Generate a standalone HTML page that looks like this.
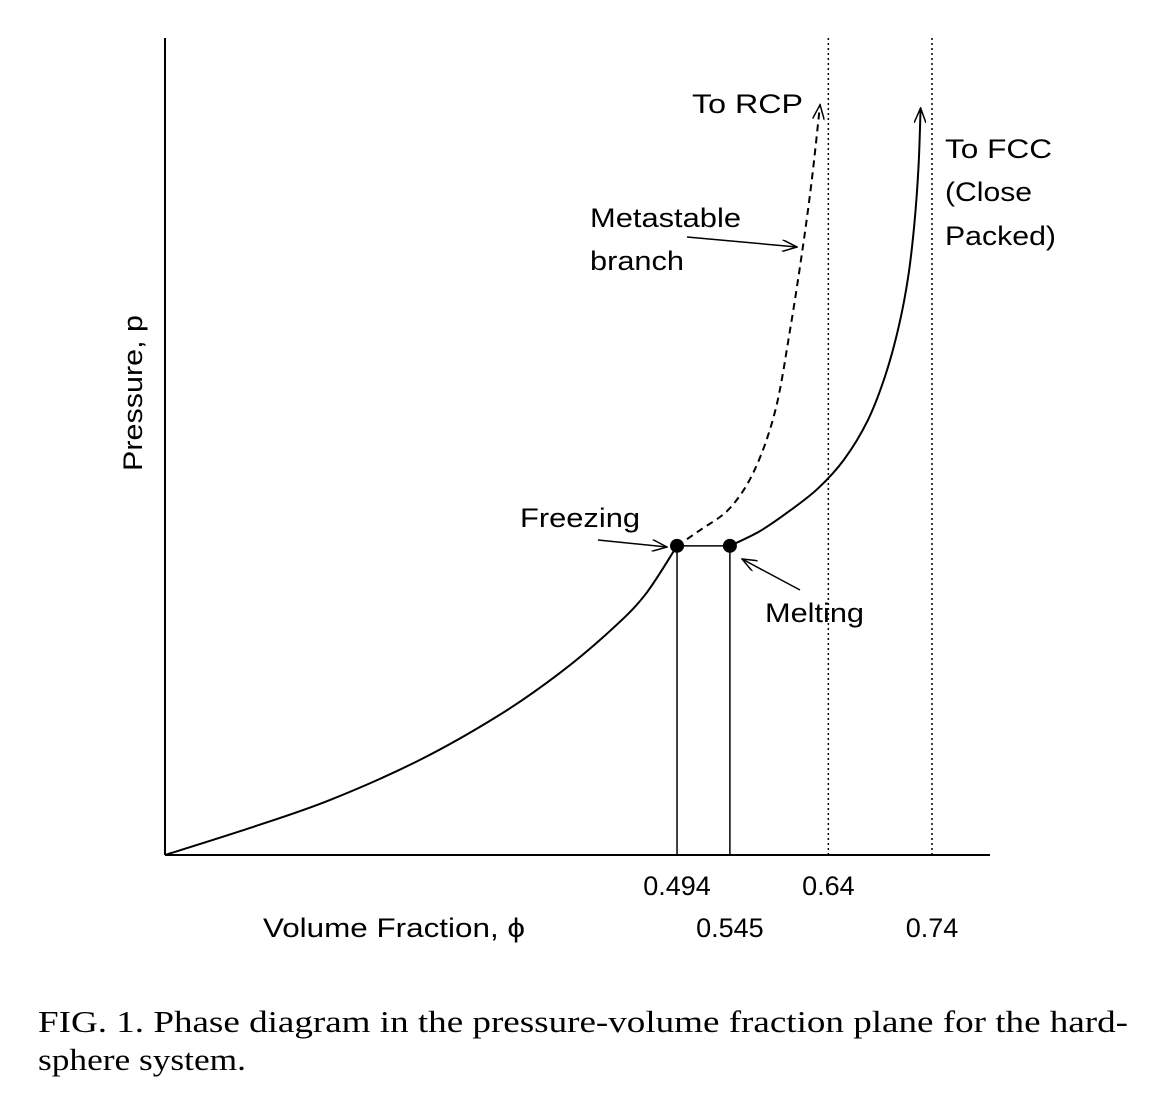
<!DOCTYPE html>
<html><head><meta charset="utf-8"><style>
body{margin:0;background:#fff;}
svg{display:block;}
.s{font-family:"Liberation Sans",sans-serif;font-size:27px;fill:#000;}
.c{font-family:"Liberation Serif",serif;font-size:31px;fill:#000;}
</style></head><body>
<svg id="chart" width="1158" height="1096" viewBox="0 0 1158 1096" xmlns="http://www.w3.org/2000/svg">
<defs><marker id="ah" markerWidth="16" markerHeight="12" refX="15" refY="6" orient="auto" markerUnits="userSpaceOnUse"><path d="M0,0 L15,6 L0,12" fill="none" stroke="#000" stroke-width="1.5"/></marker></defs>
<g id="marks"></g>
<line x1="165" y1="38" x2="165" y2="855" stroke="#000" stroke-width="2"/>
<line x1="165" y1="855" x2="990" y2="855" stroke="#000" stroke-width="2"/>
<text class="s" transform="translate(142,471) rotate(-90)" textLength="156" lengthAdjust="spacingAndGlyphs">Pressure, p</text>
<text class="s" x="263" y="937" textLength="262" lengthAdjust="spacingAndGlyphs">Volume Fraction, ϕ</text>
<text class="s" x="692" y="113" textLength="111" lengthAdjust="spacingAndGlyphs">To RCP</text>
<text class="s" x="945" y="158" textLength="107" lengthAdjust="spacingAndGlyphs">To FCC</text>
<text class="s" x="945" y="201" textLength="87" lengthAdjust="spacingAndGlyphs">(Close</text>
<text class="s" x="945" y="245" textLength="111" lengthAdjust="spacingAndGlyphs">Packed)</text>
<text class="s" x="590" y="227" textLength="151" lengthAdjust="spacingAndGlyphs">Metastable</text>
<text class="s" x="590" y="270" textLength="94" lengthAdjust="spacingAndGlyphs">branch</text>
<text class="s" x="520" y="527" textLength="120" lengthAdjust="spacingAndGlyphs">Freezing</text>
<text class="s" x="765" y="622" textLength="99" lengthAdjust="spacingAndGlyphs">Melting</text>
<line x1="687" y1="237" x2="797" y2="247" stroke="#000" stroke-width="1.5" marker-end="url(#ah)"/>
<line x1="598" y1="540" x2="667" y2="547" stroke="#000" stroke-width="1.5" marker-end="url(#ah)"/>
<line x1="800" y1="590" x2="742" y2="559" stroke="#000" stroke-width="1.5" marker-end="url(#ah)"/>
<text class="c" x="38" y="1032" textLength="1090" lengthAdjust="spacingAndGlyphs">FIG. 1. Phase diagram in the pressure-volume fraction plane for the hard-</text>
<text class="c" x="38" y="1070" textLength="208" lengthAdjust="spacingAndGlyphs">sphere system.</text>
</svg>
<script>
const fluidPhi=[0,0.082,0.159,0.246,0.323,0.381,0.430,0.463,0.494];
const fluidP=[0,0.33,0.67,1.16,1.71,2.22,2.74,3.17,3.77];
const metaPhi=[0.494,0.516,0.545,0.569,0.589,0.603,0.615,0.624,0.632];
const metaP=[3.77,3.96,4.23,4.70,5.43,6.40,7.38,8.23,9.15];
const crystPhi=[0.545,0.574,0.603,0.630,0.655,0.678,0.695,0.708,0.717,0.723,0.727,0.729];
const crystP=[3.77,3.95,4.20,4.47,4.82,5.30,5.85,6.45,7.05,7.70,8.40,9.11];
const freezePhi=0.494, meltPhi=0.545, coexP=3.77;
const dottedPhi=[0.64,0.74];
const tickVals=[0.494,0.545,0.64,0.74];
const tickLabels=["0.494","0.545","0.64","0.74"];
const tickRow=[0,1,0,1];
const X=v=>165+v*1036.5, Y=p=>855-p*82;
const NS="http://www.w3.org/2000/svg", g=document.getElementById('marks');
function mk(t,a){const e=document.createElementNS(NS,t);for(const k in a)e.setAttribute(k,a[k]);g.appendChild(e);return e;}
function pathOf(xs,ys){
  const pts=xs.map((v,i)=>[X(v),Y(ys[i])]);
  let d="M"+pts[0][0]+","+pts[0][1];
  for(let i=0;i<pts.length-1;i++){
    const p0=pts[i-1]||pts[i],p1=pts[i],p2=pts[i+1],p3=pts[i+2]||p2;
    d+=` C${p1[0]+(p2[0]-p0[0])/6},${p1[1]+(p2[1]-p0[1])/6} ${p2[0]-(p3[0]-p1[0])/6},${p2[1]-(p3[1]-p1[1])/6} ${p2[0]},${p2[1]}`;
  }
  return d;
}
dottedPhi.forEach((v,i)=>{
  const e=mk('line',{x1:X(v),y1:38,x2:X(v),y2:855,stroke:'#000','stroke-width':1.5,'stroke-dasharray':'2,3'});
  
  
});
[freezePhi,meltPhi].forEach(v=>{
  const e=mk('line',{x1:X(v),y1:Y(coexP),x2:X(v),y2:855,stroke:'#000','stroke-width':1.5});
  
  
});
let e=mk('line',{x1:X(freezePhi),y1:Y(coexP),x2:X(meltPhi),y2:Y(coexP),stroke:'#000','stroke-width':1.5});


e=mk('path',{d:pathOf(fluidPhi,fluidP),fill:'none',stroke:'#000','stroke-width':2});


e=mk('path',{d:pathOf(metaPhi,metaP),fill:'none',stroke:'#000','stroke-width':2,'stroke-dasharray':'7,5','marker-end':'url(#ah)'});


e=mk('path',{d:pathOf(crystPhi,crystP),fill:'none',stroke:'#000','stroke-width':2,'marker-end':'url(#ah)'});


[freezePhi,meltPhi].forEach(v=>{
  const c=mk('circle',{cx:X(v),cy:Y(coexP),r:7,fill:'#000'});
  
  
});
tickVals.forEach((v,i)=>{
  const t=mk('text',{x:X(v),y:tickRow[i]?937:895,'text-anchor':'middle',class:'s'});
  t.textContent=tickLabels[i];
  
  
});
</script>
</body></html>
